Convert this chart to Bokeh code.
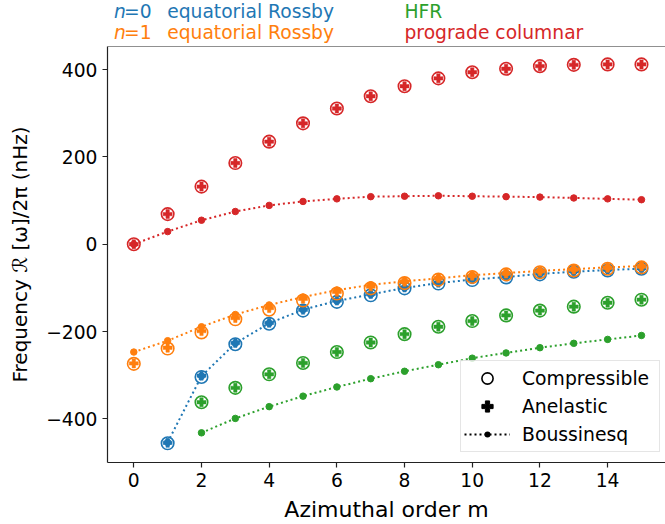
from bokeh.plotting import figure
from bokeh.layouts import column
from bokeh.models import (Range1d, FixedTicker, Legend, LegendItem, Span,
                          CustomJSTickFormatter)
from bokeh.core.properties import value
from bokeh.embed import file_html
from bokeh.resources import INLINE

# ---------------- data ----------------
m_all = list(range(0, 16))      # prograde columnar & n=1 Rossby
m_n0 = list(range(1, 16))       # n=0 Rossby
m_hfr = list(range(2, 16))      # HFR

n0_compressible = [-456, -304, -229, -182, -152, -132, -117, -101, -90, -82, -76, -69, -63, -60, -56]
n0_anelastic    = [-455, -301, -226, -180, -150, -129, -114, -99, -88, -80, -74, -67, -62, -58, -55]
n0_boussinesq   = [-454, -302, -227, -181, -150, -130, -115, -100, -89, -81, -75, -68, -63, -59, -56]

n1_compressible = [-274, -239, -202, -172, -150, -129, -113, -101, -89, -81, -75, -69, -64, -60, -56, -53]
n1_anelastic    = [-273, -237, -199, -169, -146, -125, -109, -97, -86, -78, -72, -67, -62, -58, -54, -51]
n1_boussinesq   = [-247, -221, -189, -161, -139, -121, -105, -93, -85, -78, -71, -66, -61, -57, -53, -50]

hfr_compressible = [-362, -329, -298, -272, -247, -225, -206, -189, -176, -163, -152, -143, -134, -127]
hfr_anelastic    = [-362, -329, -298, -272, -247, -225, -206, -189, -176, -163, -152, -143, -134, -127]
hfr_boussinesq   = [-432, -399, -372, -348, -327, -308, -291, -276, -261, -249, -237, -227, -218, -209]

pc_compressible = [0, 69, 132, 186, 235, 277, 311, 339, 362, 380, 394, 402, 408, 411, 412, 412]
pc_anelastic    = [0, 69, 132, 186, 235, 277, 311, 339, 362, 380, 394, 402, 408, 411, 412, 412]
pc_boussinesq   = [0, 29, 55, 75, 89, 98, 104, 109, 110, 111, 110, 109, 108, 106, 104, 102]

x_ticks = [0, 2, 4, 6, 8, 10, 12, 14]
y_ticks = [-400, -200, 0, 200, 400]

BLUE, ORANGE, GREEN, RED = "#1f77b4", "#ff7f0e", "#2ca02c", "#d62728"
FONT = "DejaVu Sans"
DOTS = "2 3"
NAN = float("nan")

# ---------------- header strip (series names) ----------------
HDR_H = 44
hdr = figure(width=665, height=HDR_H, output_backend="svg", toolbar_location=None,
             title=None, x_range=Range1d(107, 665), y_range=Range1d(HDR_H, 0),
             x_axis_location=None, y_axis_location=None, min_border=0)
hdr.outline_line_color = None
hdr.xgrid.visible = False
hdr.ygrid.visible = False
hdr.background_fill_color = "white"
hdr.border_fill_color = "white"

def htext(x, y, text, color, style="normal"):
    hdr.text(x=[x], y=[y], text=[text], text_color=color,
             text_font=value(FONT), text_font_size="18.7px",
             text_font_style=style, text_align="left", text_baseline="alphabetic")

ROW1, ROW2 = 10.8, 32.0
htext(113.5, ROW1, "n", BLUE, "italic")
htext(123.5, ROW1, "=0", BLUE)
htext(166.7, ROW1, "equatorial Rossby", BLUE)
htext(113.5, ROW2, "n", ORANGE, "italic")
htext(123.5, ROW2, "=1", ORANGE)
htext(166.7, ROW2, "equatorial Rossby", ORANGE)
htext(404.0, ROW1, "HFR", GREEN)
htext(404.0, ROW2, "prograde columnar", RED)

# ---------------- main axes ----------------
p = figure(width=665, height=524 - HDR_H, output_backend="svg", toolbar_location=None,
           x_range=Range1d(-0.777, 15.71), y_range=Range1d(-500, 453),
           min_border_left=107, min_border_right=0, min_border_top=2, min_border_bottom=61)
p.outline_line_color = None
p.xgrid.visible = False
p.ygrid.visible = False
p.background_fill_color = "white"
p.border_fill_color = "white"

for ax, ticks in ((p.xaxis[0], x_ticks), (p.yaxis[0], y_ticks)):
    ax.ticker = FixedTicker(ticks=ticks)
    ax.formatter = CustomJSTickFormatter(code="return tick < 0 ? '\u2212' + (-tick) : '' + tick;")
    ax.major_tick_out = 5
    ax.major_tick_in = 0
    ax.minor_tick_line_color = None
    ax.major_tick_line_color = "#222222"
    ax.major_tick_line_width = 1.2
    ax.axis_line_color = "#222222"
    ax.axis_line_width = 1.2
    ax.major_label_text_font = FONT
    ax.major_label_text_font_size = "18.7px"
    ax.major_label_text_color = "black"
    ax.major_label_standoff = 5
    ax.axis_label_text_font = FONT
    ax.axis_label_text_font_style = "normal"
    ax.axis_label_text_color = "black"

p.yaxis.axis_label = "Frequency ℛ [ω]/2π (nHz)"
p.yaxis.axis_label_text_font_size = "20px"
p.yaxis.axis_label_standoff = 11

p.xaxis.axis_label = "Azimuthal order m"
p.xaxis.axis_label_text_font_size = "22px"
p.xaxis.axis_label_standoff = 7

p.add_layout(Span(location=453, dimension="width", line_color="#222222", line_width=1.2))

def add_series(xs, comp, anel, bous, color):
    p.scatter(xs, comp, marker="circle", size=12.5, fill_color=None,
              line_color=color, line_width=1.6)
    p.scatter(xs, anel, marker="plus", size=9, fill_color=color,
              line_color=color, line_width=0.5)
    p.line(xs, bous, line_color=color, line_width=2, line_dash=DOTS)
    p.scatter(xs, bous, marker="circle", size=6.5, fill_color=color, line_color=color)

add_series(m_n0, n0_compressible, n0_anelastic, n0_boussinesq, BLUE)
add_series(m_all, n1_compressible, n1_anelastic, n1_boussinesq, ORANGE)
add_series(m_hfr, hfr_compressible, hfr_anelastic, hfr_boussinesq, GREEN)
add_series(m_all, pc_compressible, pc_anelastic, pc_boussinesq, RED)

# legend (black handles; renderers hold no visible points)
GLYPH_W = 46
lc = p.scatter([NAN], [NAN], marker="circle", fill_color=None,
               line_color="black", line_width=1.6)
la = p.scatter([NAN], [NAN], marker="plus", fill_color="black", line_color="black")
lb_line = p.line([NAN], [NAN], line_color="black", line_width=2, line_dash=DOTS)
lb_dot = p.line([NAN], [NAN], line_color="black", line_width=6, line_cap="round",
                line_dash="0 200", line_dash_offset=-GLYPH_W // 2)
legend = Legend(items=[LegendItem(label="Compressible", renderers=[lc]),
                       LegendItem(label="Anelastic", renderers=[la]),
                       LegendItem(label="Boussinesq", renderers=[lb_line, lb_dot])],
                location=(353, 10), orientation="vertical",
                glyph_width=GLYPH_W, glyph_height=28, label_height=20, label_width=134,
                padding=3, spacing=0, margin=0, label_standoff=12,
                label_text_font=FONT, label_text_font_size="18.8px",
                label_text_color="black",
                border_line_color="#cccccc", border_line_width=1,
                background_fill_color="white", background_fill_alpha=0.8)
p.add_layout(legend)

layout = column(hdr, p, spacing=0)
open("out.html", "w").write(file_html(layout, INLINE))
